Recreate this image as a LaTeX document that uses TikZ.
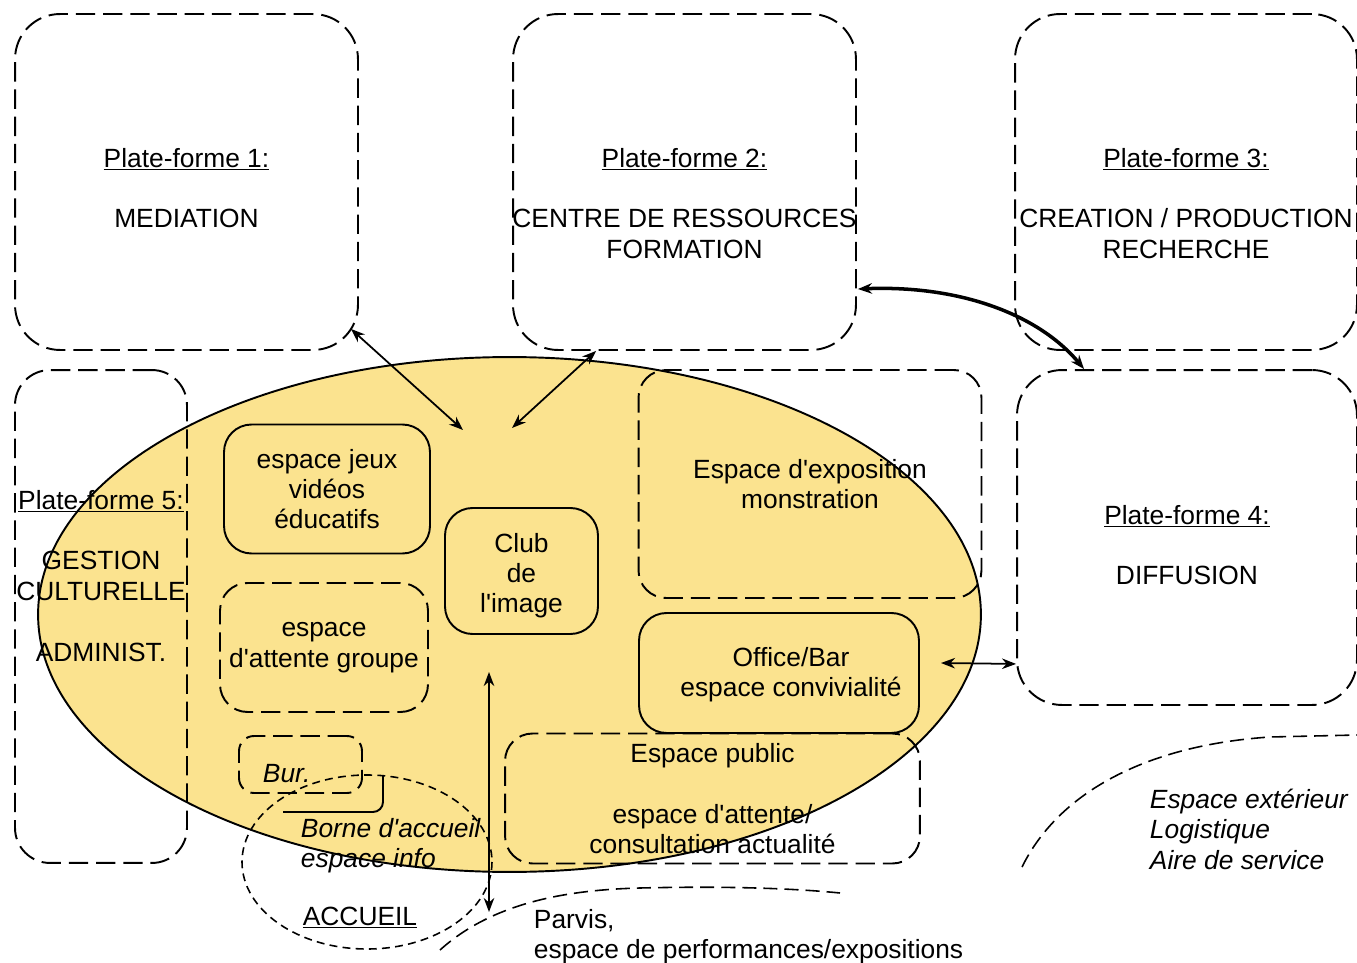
\documentclass[tikz,border=0pt]{standalone}
\usepackage{fontspec}
\setmainfont{Liberation Sans}[Ligatures=TeXOff]
\usetikzlibrary{positioning,shapes.geometric,arrows.meta}
\definecolor{zone}{RGB}{251,227,143}

\begin{document}
\begin{tikzpicture}[x=0.02cm,y=-0.02cm,align=center,line width=1.1pt,
        font=\fontsize{15}{17.3}\selectfont,
        >={Stealth[length=8pt,width=6pt]},
        plate node/.style={rectangle,draw,dash pattern=on 11pt off 4.5pt,rounded corners=0.9cm},
        room node/.style={rectangle,draw,rounded corners=0.55cm,inner sep=0pt},
        open room/.style={room node,dash pattern=on 11pt off 4.5pt},
        text node/.style={inner sep=0pt},
        note node/.style={inner sep=0pt,font=\fontsize{15}{17.3}\selectfont\itshape},
        limit/.style={dash pattern=on 8pt off 4pt,line width=0.9pt},
        link/.style={<->,line width=1pt}]

    \useasboundingbox (0,0) rectangle (1357,963);

    % espace central
    \node[ellipse,draw,fill=zone,minimum width=18.86cm,minimum height=10.3cm] (0) at (509.5,614.5) {};

    % plates-formes
    \node[plate node,minimum width=6.86cm,minimum height=6.72cm] (1) at (186.5,182) {};
    \node[plate node,minimum width=6.86cm,minimum height=6.72cm] (2) at (684.5,182) {};
    \node[plate node,minimum width=6.84cm,minimum height=6.72cm] (3) at (1186,182) {};
    \node[plate node,minimum width=6.80cm,minimum height=6.70cm] (4) at (1187,537.5) {};
    \node[plate node,rounded corners=0.7cm,minimum width=3.44cm,minimum height=9.86cm] (5) at (101,616.5) {};

    \node[text node,below=2.68cm of 1.north] (1a) {\underline{Plate-forme 1:}\\[17.3pt]MEDIATION};
    \node[text node,below=2.68cm of 2.north] (2a) {\underline{Plate-forme 2:}\\[17.3pt]CENTRE DE RESSOURCES\\FORMATION};
    \node[text node,below=2.68cm of 3.north] (3a) {\underline{Plate-forme 3:}\\[17.3pt]CREATION / PRODUCTION\\RECHERCHE};
    \node[text node,below=2.7cm of 4.north] (4a) {\underline{Plate-forme 4:}\\[17.3pt]DIFFUSION};
    \node[text node,below=2.4cm of 5.north] (5a) {\underline{Plate-forme 5:}\\[17.3pt]GESTION\\CULTURELLE\\[17.3pt]ADMINIST.};

    % espaces
    \node[room node,minimum width=4.12cm,minimum height=2.58cm] (6) at (327,489) {espace jeux\\vidéos\\éducatifs};
    \node[room node,minimum width=3.06cm,minimum height=2.52cm] (7) at (521.5,571) {};
    \node[text node,below=0.5cm of 7.north] (7a) {Club\\de\\l'image};
    \node[open room,minimum width=4.16cm,minimum height=2.58cm] (8) at (324,647.5) {espace\\d'attente groupe};
    \node[open room,minimum width=6.86cm,minimum height=4.56cm] (9) at (810,484) {Espace d'exposition\\monstration};
    \node[room node,minimum width=5.6cm,minimum height=2.4cm] (10) at (779,673) {};
    \node[text node,below=0.68cm of 10.north,xshift=0.24cm] (10a) {Office/Bar\\espace convivialité};
    \node[open room,minimum width=8.3cm,minimum height=2.6cm] (11) at (712.5,798.5) {Espace public\\[17.3pt]espace d'attente/\\consultation actualité};
    \node[open room,rounded corners=0.3cm,minimum width=2.46cm,minimum height=1.14cm] (12) at (300.5,764.5) {};
    \node[note node,anchor=base west] (12a) at (262,782) {Bur.};

    % accueil
    \draw[dash pattern=on 4.5pt off 3pt,line width=0.9pt] (367,862) ellipse [x radius=125,y radius=87];
    \draw[rounded corners=0.2cm] (283,812) -- (383,812) -- (383,775);
    \node[note node,anchor=north west,align=left] (13) at (300,817) {Borne d'accueil\\espace info};
    \node[text node,anchor=base] (14) at (360,925) {\underline{ACCUEIL}};

    % exterieur
    \draw[limit] (440,950) .. controls (490,905) and (560,890) .. (640,888) .. controls (720,886) and (790,888) .. (840,893);
    \draw[limit] (1022,867) .. controls (1060,790) and (1150,745) .. (1270,737) -- (1357,735);
    \node[text node,anchor=north west,align=left] (15) at (533,908) {Parvis,\\espace de performances/expositions};
    \node[note node,anchor=north west,align=left] (16) at (1149,788) {Espace extérieur\\Logistique\\Aire de service};

    \coordinate (c1) at (463,430);
    \coordinate (c2) at (512,428);
    \coordinate (c3) at (941,663);
    \coordinate (c4) at (489,672);
    \coordinate (c5) at (489,912);

    \path[link]
    ([shift={(-8,-22)}]1.south east) edge (c1)
    ([shift={(84,0)}]2.south west) edge (c2)
    (c3) edge ([shift={(0,-42)}]4.south west)
    (c4) edge (c5);
    \draw[link,line width=2pt] ([shift={(1,107)}]2.east) .. controls +(103,-4) and +(-45,-54) .. ([shift={(68,0)}]4.north west);
\end{tikzpicture}
\end{document}
